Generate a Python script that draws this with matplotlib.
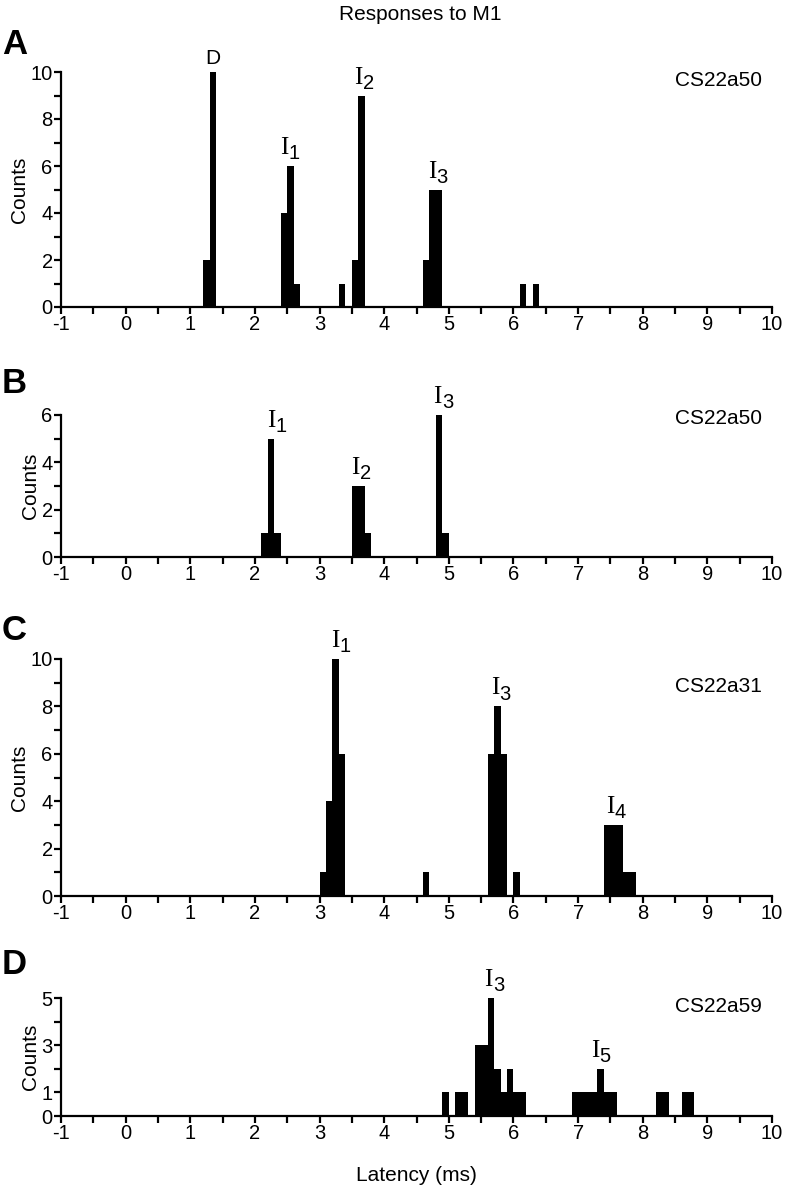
import numpy as np
import matplotlib
matplotlib.use("Agg")
import matplotlib.pyplot as plt

plt.rcParams['font.family'] = ['Liberation Sans', 'DejaVu Sans']
plt.rcParams['axes.unicode_minus'] = False

# histogram data: left edge of each 0.1 ms bin and its count
a_bins = [1.2, 1.3, 2.4, 2.5, 2.6, 3.3, 3.5, 3.6, 4.6, 4.7, 4.8, 6.1, 6.3]
a_counts = [2, 10, 4, 6, 1, 1, 2, 9, 2, 5, 5, 1, 1]

b_bins = [2.1, 2.2, 2.3, 3.5, 3.6, 3.7, 4.8, 4.9]
b_counts = [1, 5, 1, 3, 3, 1, 6, 1]

c_bins = [3.0, 3.1, 3.2, 3.3, 4.6, 5.6, 5.7, 5.8, 6.0, 7.4, 7.5, 7.6, 7.7, 7.8]
c_counts = [1, 4, 10, 6, 1, 6, 8, 6, 1, 3, 3, 3, 1, 1]

d_bins = [4.9, 5.1, 5.2, 5.4, 5.5, 5.6, 5.7, 5.8, 5.9, 6.0, 6.1,
          6.9, 7.0, 7.1, 7.2, 7.3, 7.4, 7.5, 8.2, 8.3, 8.6, 8.7]
d_counts = [1, 1, 1, 3, 3, 5, 2, 1, 2, 1, 1,
            1, 1, 1, 1, 2, 1, 1, 1, 1, 1, 1]

panels = ['A', 'B', 'C', 'D']
units = ['CS22a50', 'CS22a50', 'CS22a31', 'CS22a59']
ymax = [10, 6, 10, 5]
yticks_major = [[0, 2, 4, 6, 8, 10], [0, 2, 4, 6], [0, 2, 4, 6, 8, 10], [0, 1, 3, 5]]
# peak labels: (text, subscript, x, y)
peaks = [
    [('D', '', 1.35, 10), ('I', '1', 2.50, 6), ('I', '2', 3.65, 9), ('I', '3', 4.79, 5)],
    [('I', '1', 2.30, 5), ('I', '2', 3.60, 3), ('I', '3', 4.87, 6)],
    [('I', '1', 3.29, 10), ('I', '3', 5.76, 8), ('I', '4', 7.54, 3)],
    [('I', '3', 5.66, 5), ('I', '5', 7.31, 2)],
]
all_bins = [a_bins, b_bins, c_bins, d_bins]
all_counts = [a_counts, b_counts, c_counts, d_counts]

W, H = 786, 1192
fig = plt.figure(figsize=(W / 100, H / 100), dpi=100)

# axes boxes in pixels: (top, bottom), and label positions
boxes = [(72, 307), (415, 557), (659, 896), (998, 1116)]
letter_y = [45, 383, 630, 965]
unit_y = [81, 418, 687, 1007]
left, right = 61, 772

for i, (top, bot) in enumerate(boxes):
    ax = fig.add_axes([left / W, 1 - bot / H, (right - left) / W, (bot - top) / H])
    ax.bar(all_bins[i], all_counts[i], width=0.1, align='edge', color='black', linewidth=0)
    ax.set_xlim(-1, 10)
    ax.set_ylim(0, ymax[i])
    ax.spines['top'].set_visible(False)
    ax.spines['right'].set_visible(False)
    ax.spines['left'].set_linewidth(1.6)
    ax.spines['bottom'].set_linewidth(1.6)
    ax.set_xticks(np.arange(-1, 11, 1))
    ax.set_xticks(np.arange(-0.5, 10, 1), minor=True)
    ax.set_yticks(yticks_major[i])
    ax.set_yticks(np.arange(0, ymax[i] + 1, 1), minor=True)
    ax.tick_params(which='both', direction='out', length=5, width=1.6, labelsize=14.5, pad=1)
    ax.set_ylabel('Counts', fontsize=15, labelpad=1)
    fig.text(2 / W, 1 - letter_y[i] / H, panels[i], fontsize=25, fontweight='bold',
             ha='left', va='center')
    fig.text(718 / W, 1 - unit_y[i] / H, units[i], fontsize=15, ha='center', va='center')
    for txt, sub, x, y in peaks[i]:
        if sub == '':
            ax.annotate(txt, (x, y), xytext=(0, 3), textcoords='offset points',
                        ha='center', va='bottom', fontsize=15)
        else:
            ax.annotate(txt, (x, y), xytext=(1, 5), textcoords='offset points',
                        ha='right', va='bottom', fontsize=18, family='Liberation Serif')
            ax.annotate(sub, (x, y), xytext=(1, 2), textcoords='offset points',
                        ha='left', va='bottom', fontsize=14.5)
    if i == 3:
        ax.set_xlabel('Latency (ms)', fontsize=15, labelpad=16)

fig.text(420 / W, 1 - 15 / H, 'Responses to M1', ha='center', va='center', fontsize=15)

fig.savefig('out.png', dpi=100)
